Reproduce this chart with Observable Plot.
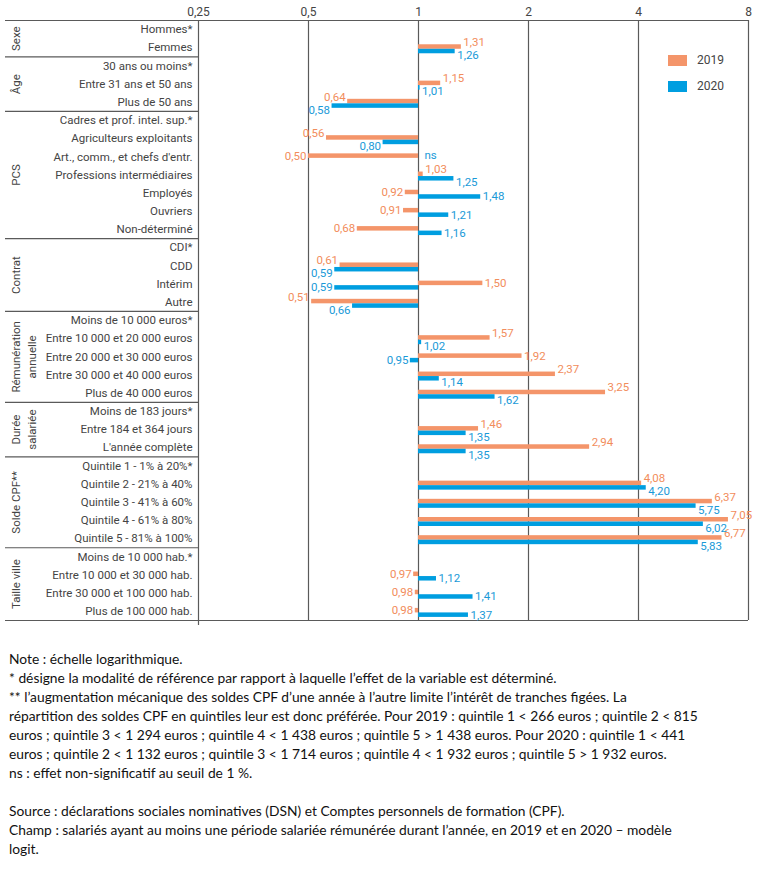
<!DOCTYPE html>
<html><head><meta charset="utf-8">
<script src="https://cdn.jsdelivr.net/npm/d3@7"></script>
<script src="https://cdn.jsdelivr.net/npm/@observablehq/plot@0.6"></script>
<style>
body{margin:0;background:#fff;}
#wrap{position:relative;width:761px;}
.lg-box{position:absolute;width:19px;height:11px;}
.lg-txt{position:absolute;font-family:Roboto,sans-serif;font-size:12px;color:#444;line-height:12px;}
#notes{font-family:Lato,"Open Sans",sans-serif;font-size:13.8px;line-height:19px;white-space:pre;color:#111;padding:19px 0 0 9px;}
</style></head>
<body>
<div id="wrap"><div id="chart"></div></div>
<div id="notes"></div>
<script>
const categories = [
  "Hommes*", "Femmes",
  "30 ans ou moins*", "Entre 31 ans et 50 ans", "Plus de 50 ans",
  "Cadres et prof. intel. sup.*", "Agriculteurs exploitants", "Art., comm., et chefs d'entr.", "Professions intermédiaires", "Employés", "Ouvriers", "Non-déterminé",
  "CDI*", "CDD", "Intérim", "Autre",
  "Moins de 10 000 euros*", "Entre 10 000 et 20 000 euros", "Entre 20 000 et 30 000 euros", "Entre 30 000 et 40 000 euros", "Plus de 40 000 euros",
  "Moins de 183 jours*", "Entre 184 et 364 jours", "L'année complète",
  "Quintile 1 - 1% à 20%*", "Quintile 2 - 21% à 40%", "Quintile 3 - 41% à 60%", "Quintile 4 - 61% à 80%", "Quintile 5 - 81% à 100%",
  "Moins de 10 000 hab.*", "Entre 10 000 et 30 000 hab.", "Entre 30 000 et 100 000 hab.", "Plus de 100 000 hab."
];
const categoryGroup = [
  "Sexe", "Sexe",
  "Âge", "Âge", "Âge",
  "PCS", "PCS", "PCS", "PCS", "PCS", "PCS", "PCS",
  "Contrat", "Contrat", "Contrat", "Contrat",
  "Rémunération\nannuelle", "Rémunération\nannuelle", "Rémunération\nannuelle", "Rémunération\nannuelle", "Rémunération\nannuelle",
  "Durée\nsalariée", "Durée\nsalariée", "Durée\nsalariée",
  "Solde CPF**", "Solde CPF**", "Solde CPF**", "Solde CPF**", "Solde CPF**",
  "Taille ville", "Taille ville", "Taille ville", "Taille ville"
];
const v2019 = [null, 1.31, null, 1.15, 0.64, null, 0.56, 0.50, 1.03, 0.92, 0.91, 0.68, null, 0.61, 1.50, 0.51, null, 1.57, 1.92, 2.37, 3.25, null, 1.46, 2.94, null, 4.08, 6.37, 7.05, 6.77, null, 0.97, 0.98, 0.98];
const v2020 = [null, 1.26, null, 1.01, 0.58, null, 0.80, null, 1.25, 1.48, 1.21, 1.16, null, 0.59, 0.59, 0.66, null, 1.02, 0.95, 1.14, 1.62, null, 1.35, 1.35, null, 4.20, 5.75, 6.02, 5.83, null, 1.12, 1.41, 1.37];
const notSignificant2020 = ["Art., comm., et chefs d'entr."];
const xTicks = [0.25, 0.5, 1, 2, 4, 8];
const xTickLabels = ["0,25", "0,5", "1", "2", "4", "8"];
const seriesNames = ["2019", "2020"];
const colors = ["#F4956A", "#009EE0"];
const textColors = ["#F28D5C", "#1A9AD8"];

const W = 761, H = 630, mT = 20, mB = 10, mL = 198, mR = 13;
const rowH = (H - mT - mB) / categories.length;
const fmt = v => d3.format(".2f")(v).replace(".", ",");

const rows = categories.map((label, i) => {
  const ns = notSignificant2020.includes(label);
  const a = v2019[i], b = v2020[i];
  const sideB = ns ? true : (b != null ? b > 1 : null);
  const same = a != null && sideB != null && (a > 1) === sideB;
  return {idx: i, label, group: categoryGroup[i], a, b, ns, same};
});
const groups = [];
rows.forEach(r => {
  const g = groups[groups.length - 1];
  if (g && g.name === r.group) g.end = r.idx;
  else groups.push({name: r.group, start: r.idx, end: r.idx});
});
const boundaries = groups.slice(1).map(g => g.start - 0.5);
const ticks = xTicks.map((v, i) => ({v, label: xTickLabels[i]}));

const px = p => p / rowH;
const rA = rows.filter(r => r.a != null);
const rB = rows.filter(r => r.b != null);
const yA = r => r.idx + px(r.same ? -5.5 : -0.8);
const yB = r => r.idx + px(r.same ? 7.5 : 3.5);
const font = 'Roboto, sans-serif';
const grid = "#5a5a5a";
const ink = "#444";

const chart = Plot.plot({
  width: W, height: H, marginTop: mT, marginBottom: mB, marginLeft: mL, marginRight: mR,
  style: {fontFamily: font, fontSize: "11.5px", color: ink, background: "#fff", overflow: "visible"},
  x: {type: "log", domain: [0.25, 8], axis: null},
  y: {domain: [-0.5, categories.length - 0.5], range: [mT, H - mB], axis: null},
  marks: [
    Plot.ruleX(ticks.slice(1), {x: "v", y1: -0.5, y2: categories.length - 0.5, stroke: grid, strokeWidth: 1.2}),
    Plot.ruleX(ticks.slice(0, 1), {x: "v", y1: -0.5, y2: categories.length - 0.5, stroke: grid, strokeWidth: 1.2, insetBottom: -5}),
    Plot.ruleY(boundaries, {stroke: grid, strokeWidth: 1.2, insetLeft: -(mL - 5), insetRight: W - mL - mR}),
    Plot.ruleY([-0.5, categories.length - 0.5], {stroke: grid, strokeWidth: 1.2, insetLeft: -(mL - 5)}),
    Plot.rectX(rA, {x1: 1, x2: "a", y1: r => r.idx + px(-3), y2: r => r.idx + px(1.5), fill: colors[0]}),
    Plot.rectX(rB, {x1: 1, x2: "b", y1: r => r.idx + px(1.5), y2: r => r.idx + px(6), fill: colors[1]}),
    Plot.text(rA.filter(r => r.a > 1), {x: "a", y: yA, text: r => fmt(r.a), textAnchor: "start", dx: 2, fill: textColors[0]}),
    Plot.text(rA.filter(r => r.a < 1), {x: "a", y: yA, text: r => fmt(r.a), textAnchor: "end", dx: -2, fill: textColors[0]}),
    Plot.text(rB.filter(r => r.b > 1), {x: "b", y: yB, text: r => fmt(r.b), textAnchor: "start", dx: 2, fill: textColors[1]}),
    Plot.text(rB.filter(r => r.b < 1), {x: "b", y: yB, text: r => fmt(r.b), textAnchor: "end", dx: -2, fill: textColors[1]}),
    Plot.text(rows.filter(r => r.ns), {x: 1, y: r => r.idx + px(-2), text: () => "ns", textAnchor: "start", dx: 6, fill: textColors[1]}),
    Plot.text(rows, {y: "idx", text: "label", frameAnchor: "left", dx: -6, textAnchor: "end", fill: ink}),
    Plot.text(groups, {y: g => (g.start + g.end) / 2, text: "name", frameAnchor: "left", dx: -(mL - 8), rotate: -90, lineAnchor: "top", textAnchor: "middle", lineHeight: 1.4, fill: ink}),
    Plot.text(ticks, {x: "v", text: "label", frameAnchor: "top", dy: -13, fill: ink, fontSize: 12})
  ]
});
const wrap = document.getElementById("wrap");
document.getElementById("chart").appendChild(chart);

seriesNames.forEach((name, i) => {
  const box = document.createElement("div");
  box.className = "lg-box";
  box.style.left = "668px"; box.style.top = (55 + i * 26) + "px"; box.style.background = colors[i];
  const t = document.createElement("div");
  t.className = "lg-txt";
  t.style.left = "697px"; t.style.top = (54 + i * 26) + "px";
  t.textContent = name;
  wrap.appendChild(box); wrap.appendChild(t);
});

const noteLines = [
  "Note : échelle logarithmique.",
  "* désigne la modalité de référence par rapport à laquelle l’effet de la variable est déterminé.",
  "** l’augmentation mécanique des soldes CPF d’une année à l’autre limite l’intérêt de tranches figées. La",
  "répartition des soldes CPF en quintiles leur est donc préférée. Pour 2019 : quintile 1 < 266 euros ; quintile 2 < 815",
  "euros ; quintile 3 < 1 294 euros ; quintile 4 < 1 438 euros ; quintile 5 > 1 438 euros. Pour 2020 : quintile 1 < 441",
  "euros ; quintile 2 < 1 132 euros ; quintile 3 < 1 714 euros ; quintile 4 < 1 932 euros ; quintile 5 > 1 932 euros.",
  "ns : effet non-significatif au seuil de 1 %.",
  "",
  "Source : déclarations sociales nominatives (DSN) et Comptes personnels de formation (CPF).",
  "Champ : salariés ayant au moins une période salariée rémunérée durant l’année, en 2019 et en 2020 – modèle",
  "logit."
];
document.getElementById("notes").textContent = noteLines.join("\n");
</script>
</body></html>
